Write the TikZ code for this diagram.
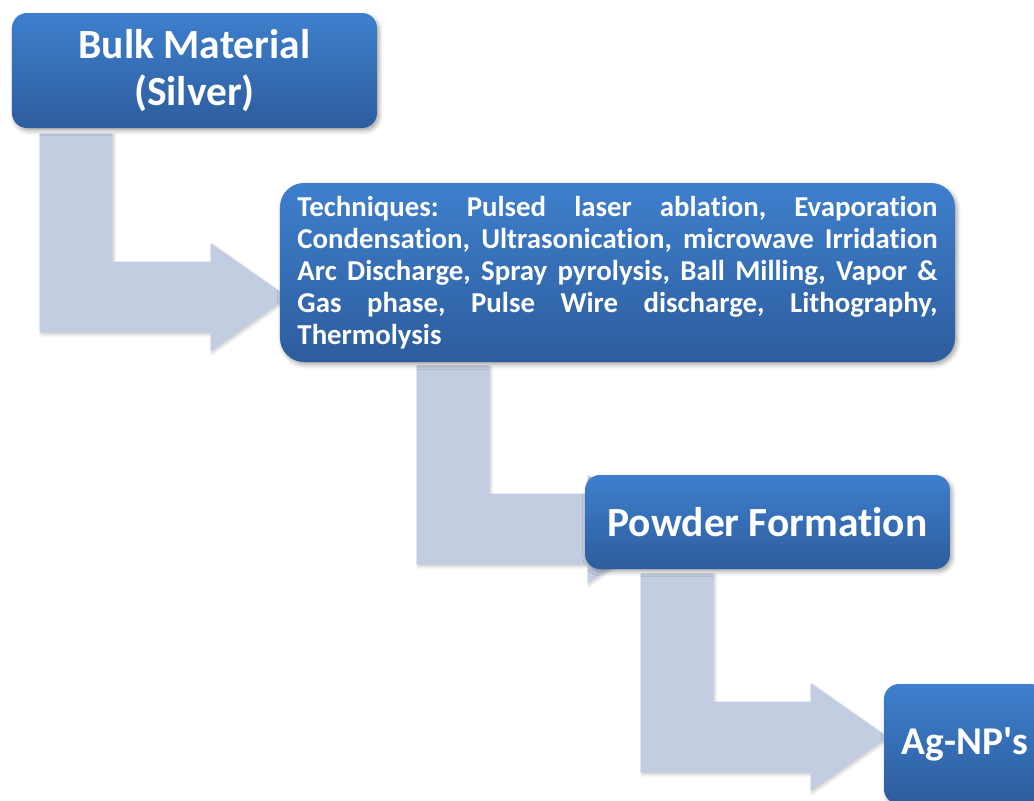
\documentclass[tikz,border=0pt]{standalone}
\usepackage{fontspec}
\setmainfont[Ligatures=NoCommon]{Carlito}
\usetikzlibrary{calc, backgrounds, shadows.blur}
\definecolor{boxtop}{RGB}{62,127,205}
\definecolor{boxbot}{RGB}{45,93,157}
\definecolor{arrowfill}{RGB}{195,205,225}

\newcommand{\fullline}[1]{\makebox[160mm][s]{#1}}
\newcommand{\bendarrow}[2]{%
  \fill[flowarrow] let \p1=(#1), \p2=(#2) in
    (\x1,\y1) -- (\x1+18.25mm,\y1) -- (\x1+18.25mm,\y2+8.875mm)
    -- (\x2-19.25mm,\y2+8.875mm) -- (\x2-19.25mm,\y2+13.5mm) -- (\x2,\y2)
    -- (\x2-19.25mm,\y2-13.5mm) -- (\x2-19.25mm,\y2-8.875mm)
    -- (\x1,\y2-8.875mm) -- cycle;}

\begin{document}
\begin{tikzpicture}[x=0.25mm,y=-0.25mm,
    stepbox/.style={rectangle, rounded corners=3.75mm, inner sep=0pt,
      top color=boxtop, bottom color=boxbot, text=white,
      blur shadow={shadow xshift=1.5pt, shadow yshift=-2pt,
        shadow blur radius=3pt, shadow opacity=35}},
    flowarrow/.style={arrowfill,
      blur shadow={shadow xshift=1pt, shadow yshift=-1.5pt,
        shadow blur radius=2pt, shadow opacity=20}}]
  \useasboundingbox (0,0) rectangle (1034,800);

  \node [stepbox, minimum width=91.25mm, minimum height=28.75mm, align=center,
    font=\bfseries\fontsize{29.5}{33.5}\selectfont] (bulk) at (194.5,70.5)
    {Bulk Material\\(Silver)};
  \node [stepbox, rounded corners=6mm, minimum width=168.75mm, minimum height=44.75mm,
    align=left, font=\bfseries\fontsize{20.5}{22.8}\selectfont\frenchspacing] (tech) at (617.5,272.5)
    {\fullline{Techniques: Pulsed laser ablation, Evaporation}\\
     \fullline{Condensation, Ultrasonication, microwave Irridation}\\
     \fullline{Arc Discharge, Spray pyrolysis, Ball Milling, Vapor \&}\\
     \fullline{Gas phase, Pulse Wire discharge, Lithography,}\\
     \makebox[160mm][l]{Thermolysis}};
  \node [stepbox, minimum width=91.25mm, minimum height=23.5mm,
    font=\bfseries\fontsize{29.5}{33.5}\selectfont] (powder) at (767.5,522)
    {Powder Formation};
  \node [stepbox, minimum width=40.5mm, minimum height=30mm,
    font=\bfseries\fontsize{28}{32}\selectfont] (agnp) at (965,744)
    {Ag-NP\textquotesingle s};

  \coordinate (a1) at ($(bulk.south west)+(28,5)$);
  \coordinate (t1) at ($(tech.west)+(8,24.5)$);
  \coordinate (a2) at ($(tech.south west)+(137,3)$);
  \coordinate (t2) at ($(powder.west)+(80,7)$);
  \coordinate (a3) at ($(powder.south west)+(56,4)$);
  \coordinate (t3) at ($(agnp.west)+(4,-7)$);

  \begin{scope}[on background layer]
    \bendarrow{a1}{t1}
    \bendarrow{a2}{t2}
    \bendarrow{a3}{t3}
  \end{scope}
\end{tikzpicture}
\end{document}
